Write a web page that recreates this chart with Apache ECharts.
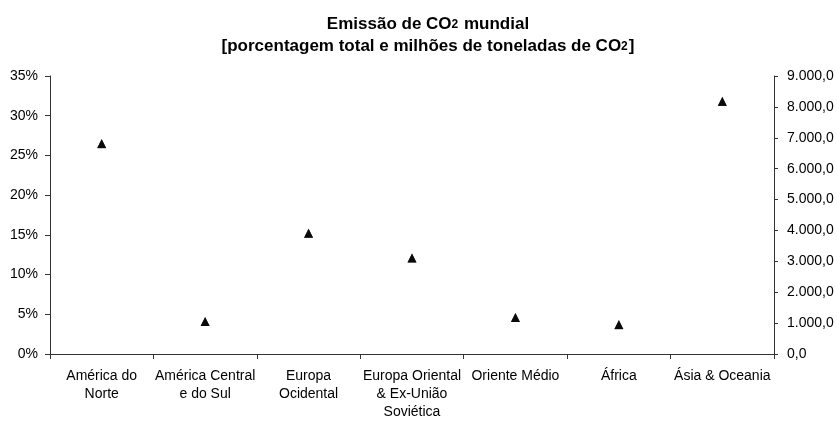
<!DOCTYPE html>
<html>
<head>
<meta charset="utf-8">
<script src="https://cdn.jsdelivr.net/npm/echarts@6/dist/echarts.min.js"></script>
<style>
html,body{margin:0;padding:0;background:#fff;}
#chart{width:837px;height:423px;}
</style>
</head>
<body>
<div id="chart"></div>
<script>
const categories = ["América do\nNorte", "América Central\ne do Sul", "Europa\nOcidental", "Europa Oriental\n& Ex-União\nSoviética", "Oriente Médio", "África", "Ásia & Oceania"];
const percentValues = [26.5, 4.1, 15.2, 12.1, 4.6, 3.7, 31.8];
const tonnesValues = [6810, 1050, 3910, 3110, 1180, 950, 8180];
const leftTicks = {min: 0, max: 35, interval: 5};
const rightTicks = {min: 0, max: 9000, interval: 1000};

function fmtPt(v){
  const s = Math.round(v).toString().replace(/\B(?=(\d{3})+(?!\d))/g, '.');
  return s + ',0';
}

const font = 'Liberation Sans, Arial, sans-serif';
const chart = echarts.init(document.getElementById('chart'), null, {renderer:'canvas'});
chart.setOption({
  animation: false,
  backgroundColor: '#fff',
  title: {
    text: '{a|Emissão de CO}{s|2}{a| mundial}\n{a|[porcentagem total e milhões de toneladas de CO}{s|2}{a|]}',
    left: 423, top: 8, textAlign: 'center',
    textStyle: {
      rich: {
        a: {fontFamily: font, fontWeight: 'bold', fontSize: 17, color: '#000', lineHeight: 22},
        s: {fontFamily: font, fontWeight: 'bold', fontSize: 12, color: '#000', lineHeight: 16, verticalAlign: 'bottom', padding: [0, 1, 4, 0]}
      }
    }
  },
  grid: {left: 50, right: 63, top: 76, bottom: 69, containLabel: false},
  xAxis: {
    type: 'category', data: categories, boundaryGap: true,
    axisLine: {lineStyle: {color: '#333', width: 1}},
    axisTick: {show: true, length: 5, lineStyle: {color: '#333'}},
    axisLabel: {interval: 0, fontFamily: font, fontSize: 14, color: '#000', margin: 13, lineHeight: 18}
  },
  yAxis: [{
    type: 'value', position: 'left', min: leftTicks.min, max: leftTicks.max, interval: leftTicks.interval,
    axisLine: {show: true, lineStyle: {color: '#333'}},
    axisTick: {show: true, length: 5, lineStyle: {color: '#333'}},
    splitLine: {show: false},
    axisLabel: {formatter: '{value}%', fontFamily: font, fontSize: 14, color: '#000', margin: 12}
  }, {
    type: 'value', position: 'right', min: rightTicks.min, max: rightTicks.max, interval: rightTicks.interval,
    axisLine: {show: true, lineStyle: {color: '#333'}},
    axisTick: {show: true, length: 4, lineStyle: {color: '#333'}},
    splitLine: {show: false},
    axisLabel: {formatter: fmtPt, fontFamily: font, fontSize: 14, color: '#000', margin: 13}
  }],
  series: [{
    name: 'Porcentagem', type: 'scatter', yAxisIndex: 0, data: percentValues,
    symbol: 'triangle', symbolSize: 9, itemStyle: {color: '#000'}
  }, {
    name: 'Milhões de toneladas', type: 'scatter', yAxisIndex: 1, data: tonnesValues,
    symbol: 'triangle', symbolSize: 9, itemStyle: {color: '#000'}
  }]
});
</script>
</body>
</html>
